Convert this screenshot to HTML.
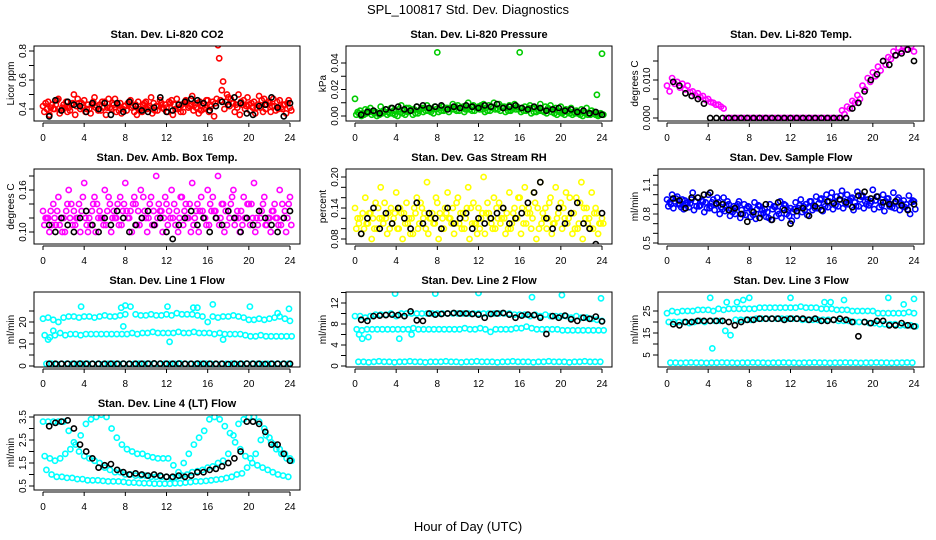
<!DOCTYPE html>
<html><head><meta charset="utf-8"><style>
html,body{margin:0;padding:0;background:#fff;}
svg{display:block;font-family:"Liberation Sans",Arial,sans-serif;}
</style></head><body>
<svg id="chart" width="936" height="540" viewBox="0 0 936 540">
<text x="468" y="14" text-anchor="middle" font-size="13">SPL_100817  Std. Dev. Diagnostics</text>
<text x="468" y="531" text-anchor="middle" font-size="13">Hour of Day (UTC)</text>
</svg>
<script>
// ---- data (values per 0.5 h unless noted) ----
const hourTicks = [0,4,8,12,16,20,24];
const co2A=[0.42,0.45,0.40,0.47,0.43,0.41,0.50,0.44,0.46,0.40,0.48,0.43,0.45,0.41,0.47,0.44,0.42,0.46,0.43,0.40,0.45,0.48,0.42,0.44,0.41,0.46,0.47,0.43,0.45,0.49,0.44,0.42,0.46,0.45,0.84,0.59,0.48,0.44,0.50,0.46,0.43,0.45,0.49,0.47,0.44,0.42,0.46,0.43,0.41];
const co2B=[0.38,0.36,0.40,0.37,0.41,0.39,0.36,0.40,0.38,0.37,0.41,0.39,0.36,0.40,0.38,0.37,0.39,0.41,0.36,0.38,0.40,0.37,0.39,0.41,0.38,0.36,0.40,0.38,0.41,0.39,0.37,0.40,0.38,0.35,0.75,0.40,0.42,0.38,0.36,0.40,0.39,0.37,0.41,0.40,0.38,0.39,0.41,0.37,0.39];
const co2C=[0.44,0.41,0.43,0.39,0.45,0.43,0.42,0.44,0.40,0.43,0.42,0.45,0.41,0.44,0.43,0.40,0.44,0.42,0.45,0.43,0.41,0.44,0.42,0.40,0.45,0.43,0.41,0.44,0.42,0.43,0.45,0.41,0.43,0.44,0.46,0.45,0.47,0.43,0.45,0.42,0.44,0.41,0.46,0.43,0.42,0.45,0.40,0.44,0.42];
const co2D=[0.40,0.43,0.46,0.41,0.38,0.44,0.47,0.41,0.43,0.45,0.39,0.41,0.47,0.43,0.39,0.42,0.45,0.38,0.40,0.44,0.42,0.39,0.46,0.43,0.44,0.40,0.38,0.46,0.43,0.41,0.39,0.46,0.42,0.47,0.53,0.50,0.44,0.41,0.43,0.48,0.41,0.43,0.38,0.45,0.47,0.40,0.43,0.46,0.40];
const co2K=[0.35,0.46,0.39,0.45,0.43,0.42,0.38,0.44,0.40,0.44,0.36,0.44,0.38,0.45,0.42,0.39,0.38,0.41,0.48,0.38,0.39,0.43,0.45,0.47,0.46,0.44,0.39,0.42,0.45,0.43,0.48,0.44,0.37,0.36,0.42,0.43,0.48,0.41,0.35,0.44];
const prA=[0.013,0.004,0.005,0.006,0.003,0.007,0.005,0.006,0.004,0.008,0.006,0.005,0.007,0.006,0.008,0.005,0.048,0.007,0.006,0.009,0.008,0.007,0.010,0.008,0.007,0.009,0.008,0.010,0.009,0.007,0.008,0.009,0.048,0.007,0.008,0.006,0.009,0.007,0.008,0.006,0.007,0.005,0.006,0.004,0.005,0.006,0.004,0.016,0.047];
const prB=[0.001,0.000,0.002,0.001,0.000,0.002,0.001,0.002,0.000,0.002,0.003,0.001,0.002,0.003,0.004,0.002,0.003,0.004,0.003,0.005,0.004,0.003,0.005,0.004,0.005,0.003,0.004,0.005,0.004,0.003,0.004,0.005,0.003,0.004,0.002,0.003,0.004,0.002,0.003,0.001,0.002,0.003,0.001,0.002,0.000,0.001,0.002,0.000,0.001];
const prC=[0.003,0.002,0.004,0.003,0.002,0.004,0.003,0.004,0.005,0.004,0.006,0.005,0.004,0.006,0.005,0.007,0.006,0.005,0.006,0.007,0.006,0.005,0.007,0.006,0.008,0.006,0.007,0.006,0.007,0.006,0.005,0.007,0.006,0.005,0.006,0.005,0.004,0.006,0.005,0.004,0.003,0.004,0.003,0.002,0.003,0.002,0.003,0.001,0.002];
const prD=[0.002,0.001,0.003,0.002,0.001,0.003,0.002,0.001,0.003,0.001,0.004,0.002,0.005,0.004,0.003,0.005,0.004,0.006,0.005,0.004,0.006,0.005,0.004,0.006,0.005,0.004,0.006,0.005,0.006,0.004,0.006,0.005,0.004,0.006,0.003,0.004,0.003,0.005,0.002,0.003,0.001,0.002,0.002,0.001,0.002,0.001,0.001,0.002,0.000];
const prK=[0.001,0.003,0.004,0.002,0.005,0.006,0.007,0.005,0.004,0.007,0.008,0.006,0.007,0.008,0.005,0.007,0.006,0.008,0.007,0.006,0.008,0.007,0.009,0.006,0.007,0.008,0.006,0.005,0.007,0.006,0.004,0.005,0.006,0.004,0.005,0.003,0.004,0.002,0.003,0.001];
const tmA=[.0085,.0105,.0095,.0090,.0085,.0070,.0065,.0058,.0050,.0040,.0035,.0025,0,0,0,0,0,0,0,0,0,0,0,0,0,0,0,0,0,0,0,0,0,0,.0020,.0030,.0045,.0060,.0085,.0105,.0120,.0135,.0150,.0160,.0175,.0185,.0190,.0200,.0175];
const tmB=[.0070,.0090,.0080,.0075,.0068,.0060,.0055,.0048,.0042,.0035,.0030,0,0,0,0,0,0,0,0,0,0,0,0,0,0,0,0,0,0,0,0,0,0,0,.0010,.0025,.0040,.0050,.0075,.0095,.0110,.0125,.0140,.0155,.0165,.0175,.0180,.0190];
const tmK=[.0095,.0085,.0065,.0058,.0050,.0038,0,0,0,0,0,0,0,0,0,0,0,0,0,0,0,0,0,0,0,0,0,0,0,.0025,.0040,.0070,.0100,.0115,.0150,.0140,.0165,.0170,.0180,.0150];
const abA=[.13,.12,.14,.15,.12,.16,.13,.14,.17,.12,.15,.13,.16,.14,.12,.15,.17,.13,.14,.16,.12,.15,.18,.13,.14,.16,.13,.15,.12,.17,.14,.13,.16,.15,.18,.14,.13,.16,.12,.15,.14,.17,.13,.15,.12,.14,.16,.13,.15];
const abB=[.11,.10,.12,.11,.10,.12,.11,.10,.12,.11,.10,.12,.11,.10,.12,.11,.13,.10,.11,.12,.10,.11,.12,.10,.11,.12,.10,.11,.12,.11,.10,.12,.11,.13,.11,.10,.12,.11,.10,.12,.11,.10,.12,.11,.10,.12,.11,.10,.11];
const abC=[.12,.13,.11,.12,.13,.14,.12,.13,.11,.13,.14,.12,.13,.12,.14,.13,.12,.14,.13,.15,.12,.13,.14,.12,.13,.14,.12,.13,.14,.12,.13,.12,.14,.13,.12,.13,.14,.12,.13,.12,.14,.12,.13,.11,.13,.12,.14,.12,.13];
const abD=[.12,.11,.13,.10,.14,.11,.12,.15,.10,.14,.12,.11,.15,.13,.11,.14,.12,.15,.11,.13,.14,.11,.13,.15,.12,.11,.15,.14,.10,.13,.15,.11,.13,.12,.14,.11,.15,.13,.11,.14,.12,.11,.14,.12,.13,.11,.12,.14,.12];
const abK=[.11,.10,.12,.11,.10,.12,.13,.11,.10,.12,.11,.13,.12,.10,.11,.12,.13,.11,.12,.10,.09,.11,.12,.13,.11,.12,.10,.12,.11,.13,.12,.10,.12,.11,.13,.12,.11,.10,.12,.13];
const rhA=[.14,.12,.16,.13,.15,.18,.12,.14,.17,.13,.15,.12,.16,.14,.19,.13,.15,.12,.17,.14,.16,.13,.18,.15,.14,.20,.13,.16,.15,.12,.17,.14,.16,.18,.13,.15,.19,.14,.16,.18,.15,.17,.13,.16,.19,.14,.17,.13,.12];
const rhB=[.10,.09,.11,.08,.10,.12,.09,.11,.10,.08,.11,.09,.10,.12,.09,.11,.08,.10,.12,.09,.11,.10,.08,.11,.10,.09,.12,.10,.11,.09,.10,.12,.09,.11,.10,.08,.11,.10,.09,.12,.10,.11,.09,.10,.08,.11,.10,.09,.11];
const rhC=[.12,.13,.11,.12,.14,.11,.13,.12,.10,.13,.12,.14,.11,.13,.12,.11,.13,.14,.12,.11,.13,.12,.14,.11,.12,.13,.11,.14,.12,.13,.11,.12,.14,.13,.12,.14,.13,.12,.11,.13,.14,.12,.13,.11,.14,.12,.13,.11,.12];
const rhD=[.11,.10,.13,.10,.12,.15,.10,.13,.14,.11,.09,.13,.15,.10,.12,.16,.10,.13,.11,.15,.10,.14,.11,.09,.13,.15,.10,.12,.14,.10,.13,.16,.11,.14,.17,.10,.12,.15,.11,.14,.12,.16,.10,.15,.12,.10,.14,.11,.10];
const rhK=[.09,.12,.14,.10,.13,.11,.14,.12,.10,.15,.11,.13,.12,.10,.14,.11,.12,.13,.10,.12,.11,.12,.13,.14,.11,.12,.13,.15,.17,.19,.12,.10,.14,.11,.13,.15,.11,.10,.07,.13];
const sfA=[.95,1.0,.98,.95,.92,1.02,.97,.93,1.0,.95,.92,.97,.90,.88,.93,.90,.87,.92,.88,.85,.90,.87,.93,.89,.86,.92,.95,.90,.93,.98,.96,1.0,1.02,.98,1.04,1.0,.97,1.03,.99,.95,1.05,.98,1.0,.96,1.02,.97,.94,.99,.93];
const sfB=[.88,.86,.90,.85,.87,.84,.88,.82,.86,.84,.80,.83,.78,.80,.76,.79,.77,.75,.80,.77,.74,.78,.76,.80,.73,.78,.82,.79,.84,.86,.83,.87,.85,.88,.86,.90,.84,.88,.86,.89,.85,.87,.83,.88,.86,.84,.87,.80,.85];
const sfC=[.92,.93,.90,.94,.91,.93,.89,.92,.88,.90,.87,.89,.85,.87,.84,.86,.83,.85,.84,.82,.85,.83,.86,.84,.82,.86,.88,.87,.89,.91,.90,.93,.92,.95,.93,.94,.92,.95,.93,.91,.94,.92,.93,.90,.92,.91,.90,.92,.89];
const sfD=[.90,.96,.87,.91,.95,.88,.94,.86,.92,.97,.85,.93,.82,.90,.80,.88,.79,.89,.81,.76,.88,.80,.90,.78,.85,.89,.84,.93,.86,.95,.88,.97,.89,.99,.90,.96,.88,.98,.90,.93,.98,.89,.96,.87,.95,.88,.85,.94,.88];
const sfK=[.96,.94,.86,.97,.97,1.0,1.02,.91,.90,.84,.86,.80,.72,.82,.76,.90,.74,.92,.84,.70,.83,.86,.78,.88,.84,.93,.91,.95,.92,.87,.99,1.03,.96,.98,.92,.90,.93,.89,.84,.90];
const l1A=[21.5,22,21,20,22,22.5,22.5,22,22.5,22.5,22,22.5,23,22.5,22.5,23,23.5,27,23.5,23,23,23.5,23,23,23.5,23,24,23.5,23.5,23.5,23,22.5,20,22.5,22,22.5,22.5,23,22.5,22,21,21,21.5,21,21.5,22,22.5,21.5,20.5];
const l1B=[14,13,14,15,14,14.5,14.5,14,14.5,14.5,14.5,14.5,14.5,14.5,14.5,14.5,14.5,15,14.5,15,15,15.5,15,15,15,15,15.5,15,15,15.5,15,15,15,14.5,15,14.5,14.5,14.5,14.5,14,13.5,13.5,14,13.5,13.5,13.5,13.5,13.5,13.5];
const l1C=[1,1.1,0.9,1,1.1,1,0.9,1,1.1,1,1,0.9,1,1.1,1,1,0.9,1,1.1,1,1,1,0.9,1.1,1,1,1.2,1,1,0.9,1,1.1,1,0.8,1,1,1.1,0.9,1,1,1.1,1,0.9,1,1,1.1,1,1,1];
const l1K=[1,1,1,1,1,1.1,1,1,1,1,1,1,1.1,1,1,1,1.1,1.2,1.1,1,1,1.1,1,1,1.1,1,1,1,1,0.8,1,1,1.1,1,1,0.9,1,1,1,1];
const l1OutH=[3.7,7.6,8.0,12.1,14.6,15.0,16.5,20.1,22.8,23.9,0.5,1.0,7.8,12.3,17.5];
const l1OutV=[27,26.5,27.5,27,26.5,26.5,28,27,24,26,12,16,18,11,12];
const l2A=[9.5,9.5,9.2,9.5,9.8,9.8,9.8,10,9.5,10,10,10,10,10,10,10,10,10,10,10,10,10,10,10,10,10,10,10,10,10,10,9.8,9.8,9.8,9.5,9.8,9.5,9.8,9.5,9.5,9.5,9.5,9.2,9.5,9.2,9.2,9,8.8,8.6];
const l2B=[7,6.8,7,7,7,7,7,7,7,7,7,7.2,7,7,7,7,7,7,7,7,7,7.2,7,7,7.2,7,6.5,7,7,7,7,7.2,7.2,7.5,7.2,7,7,7,7,7,6.8,6.8,6.8,6.8,6.8,6.8,6.8,6.8,6.8];
const l2C=[0.8,0.8,0.7,0.8,0.9,0.8,0.8,0.7,0.8,0.8,0.9,0.8,0.8,0.7,0.8,0.8,0.8,0.9,0.8,0.8,0.7,0.8,0.8,0.9,0.8,0.8,0.8,0.7,0.8,0.8,0.9,0.8,0.8,0.8,0.7,0.8,0.8,0.9,0.8,0.8,0.8,0.7,0.8,0.8,0.9,0.8,0.8,0.8,0.8];
const l2K=[8.8,8.6,9.5,9.6,9.7,9.8,9.7,9.5,10.4,8.7,8.6,10,9.8,9.9,10,10.1,10,10,9.9,9.8,9.2,9.9,10,10.1,9.8,9.2,9.6,9.8,9.7,9.2,6.1,9.5,9.2,9.6,8.9,8.6,9.2,9.0,9.4,8.5];
const l2OutH=[0.4,0.7,1.3,3.9,4.3,5.5,7.8,12.0,17.2,20.1,23.9];
const l2OutV=[6,5.2,5.5,13.8,5.2,6,13.8,13.9,13.1,13.5,12.9];
const l3A=[24,25,24.5,25,25,25,25.5,25.5,25.5,25,26,25.5,26,26,26,26,26,26,26.5,26.5,26.5,26.5,26.5,26.5,26.5,26.5,27,26.5,26.5,26.5,26,26,26,25.5,25.5,25.5,25,25,25,25,25,24,24,24,24,24,24,24.5,24];
const l3B=[20,20,20,20,19.5,20,20.5,20,20.5,20.5,20.5,16,14,21,21,21,21,21.5,21.5,21.5,21.5,21.5,21.5,21.5,21.5,21.5,21,21,21,21,21,21,21,20.5,20.5,20.5,20,20,20,19.5,19.5,19,19,19,19,18.5,18.5,18.5,18];
const l3C=[1.5,1.5,1.4,1.5,1.6,1.5,1.5,1.4,1.5,1.5,1.6,1.5,1.5,1.4,1.5,1.5,1.6,1.5,1.5,1.4,1.5,1.5,1.6,1.5,1.5,1.4,1.5,1.5,1.6,1.5,1.5,1.4,1.5,1.5,1.6,1.5,1.5,1.4,1.5,1.5,1.6,1.5,1.5,1.4,1.5,1.5,1.6,1.5,1.5];
const l3K=[19,18.5,20,20,20.5,20.5,20.5,20.5,20.5,20,18.5,20,21,21,21.5,21.5,21.5,21.5,21,21.5,21.5,21.5,21,21.5,20.5,20.5,21,21.5,21,20,13.5,20,19.5,20.5,20.5,18.5,18.5,19.5,18.5,18];
const l3OutH=[4.2,4.4,5.8,6.8,7.4,8.0,12.0,15.3,15.9,17.2,21.5,23.0,24.0];
const l3OutV=[31,8,29,29,30,31,31,29,29,30,31,28,30.5];
const l4A=[3.3,3.3,3.3,3.3,3.3,2.9,2.4,2.0,1.8,1.7,1.6,1.5,1.3,1.2,1.1,1.1,1.0,1.0,0.95,0.95,0.95,0.9,0.9,0.9,0.9,0.85,0.9,0.95,1.0,1.1,1.15,1.2,1.3,1.35,1.5,1.6,1.9,2.7,3.2,3.4,3.5,3.5,3.3,3.0,2.6,2.3,2.1,1.9,1.7];
const l4B=[1.8,1.7,1.6,1.7,1.9,2.1,2.3,2.7,3.2,3.4,3.5,3.6,3.5,3.0,2.6,2.3,2.1,2.0,1.9,1.9,1.8,1.75,1.7,1.7,1.7,1.4,1.1,1.5,1.9,2.3,2.6,2.9,3.4,3.5,3.4,3.1,2.8,2.4,2.1,1.8,1.7,1.9,2.5,2.7,2.4,2.1,1.9,1.7,1.6];
const l4C=[1.2,1.0,0.9,0.9,0.85,0.85,0.8,0.8,0.75,0.75,0.75,0.72,0.7,0.7,0.7,0.68,0.65,0.65,0.63,0.62,0.62,0.6,0.6,0.6,0.6,0.62,0.62,0.65,0.67,0.7,0.7,0.72,0.75,0.78,0.8,0.85,0.9,1.0,1.05,1.3,1.5,1.4,1.3,1.2,1.1,1.0,0.95,0.9,0.9];
const l4K=[3.1,3.25,3.3,3.35,3.0,2.3,2.0,1.7,1.3,1.4,1.45,1.2,1.1,1.0,1.05,1.0,0.95,1.0,0.95,0.9,0.9,0.95,0.9,0.95,1.1,1.1,1.2,1.25,1.35,1.5,1.7,2.0,3.3,3.3,3.2,2.85,2.3,2.3,1.9,1.6];

// ---- layout ----
const NS='http://www.w3.org/2000/svg';
const svg=document.getElementById('chart');
function mk(tag,attrs,parent){const e=document.createElementNS(NS,tag);for(const k in attrs)e.setAttribute(k,attrs[k]);(parent||svg).appendChild(e);return e;}

const panels=[
 {c:0,r:0,title:'Stan. Dev. Li-820 CO2',yl:'Licor ppm',m:[0.4,109,0.8,51],ticks:[0.4,0.5,0.6,0.7,0.8],labels:['0.4','0.6','0.8'],col:'#ff0000',
  s:[co2A,co2B,co2C,co2D],k:co2K},
 {c:1,r:0,title:'Stan. Dev. Li-820 Pressure',yl:'kPa',m:[0,116,0.04,63],ticks:[0,0.01,0.02,0.03,0.04],labels:['0.00','0.02','0.04'],col:'#00cc00',
  s:[prA,prB,prC,prD],k:prK},
 {c:2,r:0,title:'Stan. Dev. Li-820 Temp.',yl:'degrees C',m:[0,118,0.01,80],ticks:[0,0.005,0.01,0.015],labels:['0.000','0.010'],col:'#ff00ff',
  s:[tmA,tmB],k:tmK},
 {c:0,r:1,title:'Stan. Dev. Amb. Box Temp.',yl:'degrees C',m:[0.10,232,0.16,190],ticks:[0.10,0.12,0.14,0.16,0.18],labels:['0.10','0.16'],col:'#ff00ff',
  s:[abA,abB,abC,abD],k:abK},
 {c:1,r:1,title:'Stan. Dev. Gas Stream RH',yl:'percent',m:[0.08,239,0.20,177],ticks:[0.08,0.10,0.12,0.14,0.16,0.18,0.20],labels:['0.08','0.14','0.20'],col:'#ffff00',
  s:[rhA,rhB,rhC,rhD],k:rhK},
 {c:2,r:1,title:'Stan. Dev. Sample Flow',yl:'ml/min',m:[0.5,243,1.1,185],ticks:[0.5,0.6,0.7,0.8,0.9,1.0,1.1,1.2],labels:['0.5','0.8','1.1'],col:'#0000ff',
  s:[sfA,sfB,sfC,sfD],k:sfK},
 {c:0,r:2,title:'Stan. Dev. Line 1 Flow',yl:'ml/min',m:[0,366,20,322],ticks:[0,5,10,15,20,25],labels:['0','10','20'],col:'#00ffff',
  s:[l1A,l1B,l1C],k:l1K,oh:l1OutH,ov:l1OutV},
 {c:1,r:2,title:'Stan. Dev. Line 2 Flow',yl:'ml/min',m:[0,366,12,303],ticks:[0,2,4,6,8,10,12,14],labels:['0','4','8','12'],col:'#00ffff',
  s:[l2A,l2B,l2C],k:l2K,oh:l2OutH,ov:l2OutV},
 {c:2,r:2,title:'Stan. Dev. Line 3 Flow',yl:'ml/min',m:[5,355,25,311],ticks:[5,10,15,20,25],labels:['5','15','25'],col:'#00ffff',
  s:[l3A,l3B,l3C],k:l3K,oh:l3OutH,ov:l3OutV},
 {c:0,r:3,title:'Stan. Dev. Line 4 (LT) Flow',yl:'ml/min',m:[0.5,486,3.5,417],ticks:[0.5,1,1.5,2,2.5,3,3.5],labels:['0.5','1.5','2.5','3.5'],col:'#00ffff',
  s:[l4A,l4B,l4C],k:l4K}
];

panels.forEach((p,pi)=>{
  const bl=34+312*p.c, br=300+312*p.c, bt=46+123*p.r, bb=bt+75;
  const xAt=h=>43+312*p.c+h*(247/24);
  const yAt=v=>p.m[1]+(v-p.m[0])*(p.m[3]-p.m[1])/(p.m[2]-p.m[0]);
  const g=mk('g',{});
  
  
  const t=mk('text',{x:(bl+br)/2,y:bt-8,'text-anchor':'middle','font-size':'11','font-weight':'bold'},g);
  t.textContent=p.title;
  
  
  const yt=mk('text',{x:0,y:0,'text-anchor':'middle','font-size':'10',transform:`translate(${bl-20},${(bt+bb)/2}) rotate(-90)`},g);
  yt.textContent=p.yl;
  
  
  const cid='clip'+pi;
  const cp=mk('clipPath',{id:cid},g);
  mk('rect',{x:bl,y:bt,width:br-bl,height:bb-bt},cp);
  const pts=mk('g',{'clip-path':`url(#${cid})`},g);
  
  
  const dot=(h,v,color,nm)=>{
    const c=mk('circle',{cx:xAt(h).toFixed(1),cy:yAt(v).toFixed(1),r:2.6,fill:'none',stroke:color,'stroke-width':1.6},pts);
    
    
  };
  const n=p.s.length;
  p.s.forEach((arr,si)=>{
    const off=si*0.5/n;
    arr.forEach((v,i)=>{const h=i*0.5+off; if(h<=24.2) dot(h,v,p.col,'point');});
  });
  if(p.oh) p.oh.forEach((h,i)=>dot(h,p.ov[i],p.col,'outlier-point'));
  p.k.forEach((v,i)=>dot(0.6+i*0.6,v,'#000','black-point'));
  const box=mk('rect',{x:bl,y:bt,width:br-bl,height:bb-bt,fill:'none',stroke:'#000','stroke-width':1},g);
  
  
  mk('line',{x1:xAt(0),x2:xAt(24),y1:bb+2,y2:bb+2,stroke:'#000','stroke-width':1},g);
  hourTicks.forEach(h=>{
    mk('line',{x1:xAt(h),x2:xAt(h),y1:bb+2,y2:bb+6,stroke:'#000','stroke-width':1},g);
    const tx=mk('text',{x:xAt(h),y:bb+20,'text-anchor':'middle','font-size':'10'},g);
    tx.textContent=h;
    
    
  });
  p.ticks.forEach(v=>{
    const y=yAt(v); if(y<bt-3||y>bb+3) return;
    mk('line',{x1:bl-5,x2:bl,y1:y,y2:y,stroke:'#000','stroke-width':1},g);
  });
  p.labels.forEach(l=>{
    const y=yAt(parseFloat(l));
    const tx=mk('text',{x:0,y:0,'text-anchor':'middle','font-size':'10',transform:`translate(${bl-8},${y}) rotate(-90)`},g);
    tx.textContent=l;
    
    
  });
});
</script>
</body></html>
